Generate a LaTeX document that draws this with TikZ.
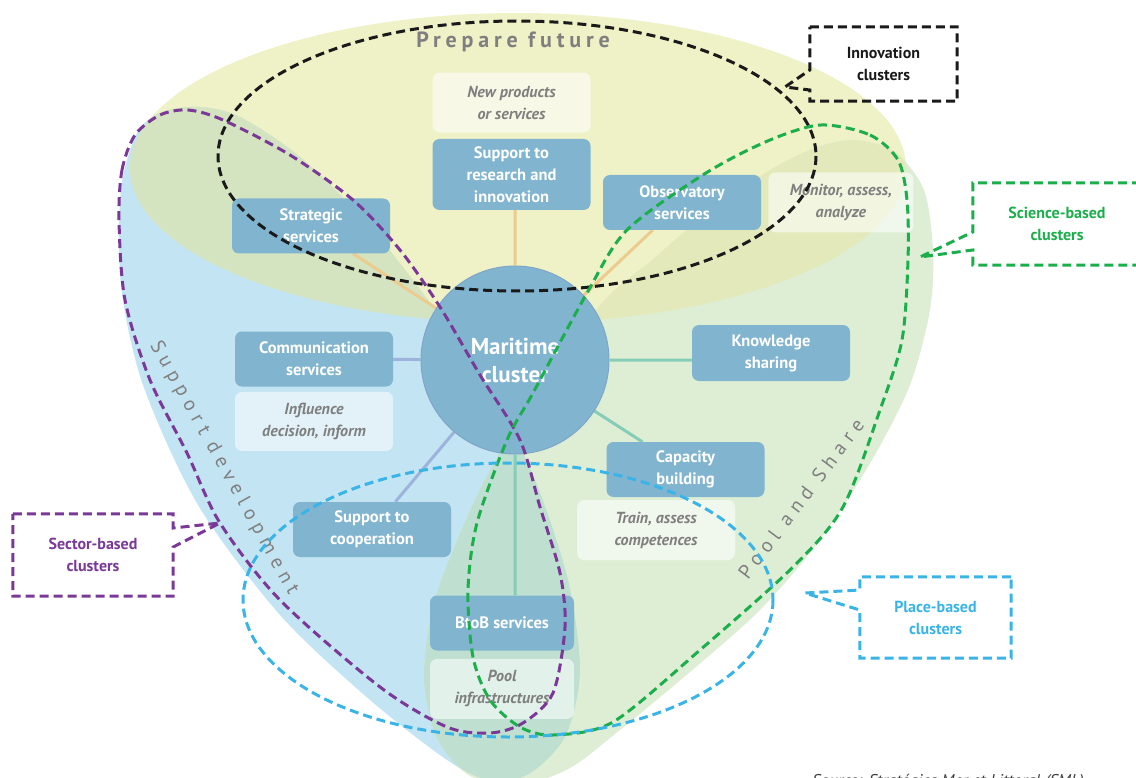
\documentclass[tikz,border=0pt]{standalone}
\usepackage{fontspec}
\setmainfont{PT Sans}
\usetikzlibrary{positioning}

\definecolor{yelfill}{HTML}{EFF1C6}
\definecolor{blufill}{HTML}{C3E4F3}
\definecolor{grnfill}{HTML}{DEEED5}
\definecolor{ybfill}{HTML}{D4E4C1}
\definecolor{ygfill}{HTML}{E3E9BB}
\definecolor{bgfill}{HTML}{BFE0D1}
\definecolor{boxblue}{HTML}{80B4CF}
\definecolor{circedge}{HTML}{7FA6C8}
\definecolor{notegray}{HTML}{7F7F7F}
\definecolor{themegray}{HTML}{7F7F7F}
\definecolor{srcgray}{HTML}{404040}
\definecolor{linkorange}{HTML}{ECCB8F}
\definecolor{linkblue}{HTML}{9DB3DC}
\definecolor{linkteal}{HTML}{86CDB7}
\definecolor{innoblack}{HTML}{1A1A1A}
\definecolor{scigreen}{HTML}{1BAE4B}
\definecolor{sectpurple}{HTML}{7A3996}
\definecolor{placecyan}{HTML}{3AB4E6}

\newcommand\boxfont{\fontsize{16.5}{22}\selectfont\bfseries}
\newcommand\notefont{\fontsize{16}{22}\selectfont\bfseries\itshape}
\newcommand\callfont{\fontsize{16}{22}\selectfont\bfseries}
\newcommand\bigfont{\fontsize{23}{28}\selectfont\bfseries}
\newcommand\prepfont{\fontsize{22}{26}\selectfont\bfseries\addfontfeatures{LetterSpace=22}}
\newcommand\themefont{\fontsize{20}{24}\selectfont\addfontfeatures{LetterSpace=30}}
\newcommand\srcfont{\fontsize{17}{20}\selectfont\itshape}

% the three petals
\newcommand\yelblob{(518,168) ellipse [x radius=388, y radius=155]}
\newcommand\blublob{plot[smooth cycle] coordinates {(137,133) (162,112) (200,107) (240,117) (300,157) (367,223) (433,307) (490,390) (535,480) (568,580) (580,670) (566,735) (532,772) (495,782) (450,762) (370,700) (280,615) (198,505) (143,385) (121,285) (121,190)}}
\newcommand\grnblob{plot[smooth cycle] coordinates {(855,140) (895,152) (924,190) (933,250) (930,310) (910,385) (872,460) (820,540) (760,610) (690,672) (620,730) (570,768) (520,785) (470,776) (437,738) (424,680) (432,610) (455,545) (490,470) (540,390) (603,302) (650,262) (705,215) (767,172) (815,148)}}

\pgfdeclarelayer{back}
\pgfsetlayers{back,main}

\begin{document}
\begin{tikzpicture}[x=1pt, y=-1pt,
    service/.style={fill=boxblue, rounded corners=7pt, text=white, font=\boxfont, align=center, minimum width=158pt, minimum height=55pt},
    note/.style={fill=white, fill opacity=0.55, text opacity=1, rounded corners=7pt, text=notegray, font=\notefont, align=center, minimum width=158pt, minimum height=60pt},
    link/.style={line width=3pt},
    cluster/.style={line width=3pt, dash pattern=on 9pt off 5pt},
    calltext/.style={font=\callfont, align=center},
    theme/.style={text=themegray, font=\themefont}]

    \useasboundingbox (0,0) rectangle (1136,778);

    % background petals
    \begin{pgfonlayer}{back}
        \fill[yelfill] \yelblob;
        \fill[blufill] \blublob;
        \fill[grnfill] \grnblob;
        \begin{scope}
            \clip \yelblob;
            \fill[ybfill] \blublob;
            \fill[ygfill] \grnblob;
        \end{scope}
        \begin{scope}
            \clip \blublob;
            \fill[bgfill] \grnblob;
        \end{scope}
    \end{pgfonlayer}

    \node (mc) [circle, fill=boxblue, draw=circedge, line width=1pt, minimum size=188pt, text=white, font=\bigfont, align=center] at (515,360) {Maritime\\cluster};

    \node (sri)   [service, minimum height=71pt] at (511.5,174.5) {Support to\\research and\\innovation};
    \node (npos)  [note, above=6pt of sri] {New products\\or services};
    \node (strat) [service] at (311,226) {Strategic\\services};
    \node (obs)   [service] at (682,202.5) {Observatory\\services};
    \node (mon)   [note, minimum width=145pt, right=7pt of obs] {Monitor, assess,\\analyze};
    \node (comm)  [service] at (314,359) {Communication\\services};
    \node (infl)  [note, minimum height=59pt, below=5pt of comm] {Influence\\decision, inform};
    \node (know)  [service, minimum height=56pt] at (771,353) {Knowledge\\sharing};
    \node (cap)   [service] at (685.5,469.5) {Capacity\\building};
    \node (train) [note] at (656,530) {Train, assess\\competences};
    \node (coop)  [service] at (372,529.5) {Support to\\cooperation};
    \node (btob)  [service, minimum width=144pt] at (502,623) {BtoB services};
    \node (pool)  [note, minimum width=144pt, below=8pt of btob] {Pool\\infrastructures};

    \begin{pgfonlayer}{back}
        \draw[link, linkorange] (mc) -- (mc |- sri.south)
                                (mc) -- (strat)
                                (mc) -- (obs);
        \draw[link, linkblue]   (mc) -- (comm)
                                (mc) -- (coop);
        \draw[link, linkteal]   (mc) -- (mc -| know.west)
                                (mc) -- (cap)
                                (mc) -- (mc |- btob.north);
    \end{pgfonlayer}

    % themes
    \node (prep)   [text=themegray, font=\prepfont, anchor=base] at (513,48) {Prepare future};
    \node (supdev) [theme, rotate=-61] at (224,468) {Support development};
    \node (poolsh) [theme, rotate=53] at (801,499) {Pool and Share};

    % cluster outlines
    \draw[cluster, innoblack] (517,156) ellipse [x radius=299, y radius=135];
    \draw[cluster, sectpurple] plot[smooth cycle] coordinates {(119,220) (122,170) (135,135) (160,115) (188,110) (223,120) (290,155) (353,200) (400,250) (440,307) (480,375) (520,440) (540,507) (560,573) (565,627) (553,693) (523,723) (490,733) (447,727) (380,687) (280,600) (220,523) (187,453) (150,380) (125,300)};
    \draw[cluster, scigreen] plot[smooth cycle] coordinates {(821,125) (870,135) (898,160) (907,200) (908,260) (902,340) (880,410) (843,507) (793,567) (700,650) (613,722) (553,735) (520,727) (490,700) (473,657) (468,590) (477,523) (507,440) (533,393) (587,293) (627,230) (706,173) (770,140)};
    \draw[cluster, placecyan] (508,600) ellipse [x radius=265, y radius=137];

    % callouts
    \node (innov) [calltext, text=innoblack, minimum width=147pt, minimum height=74pt] at (883.5,64) {Innovation\\clusters};
    \coordinate (innovtip) at (785,87);
    \draw[cluster, innoblack] (innov.north west) -- (innov.north east) -- (innov.south east) -- (innov.south west)
        -- ([yshift=-26pt]innov.west) -- (innovtip) -- ([yshift=-6pt]innov.west) -- cycle;

    \node (sci) [calltext, text=scigreen, minimum width=168pt, minimum height=82pt] at (1057,224) {Science-based\\clusters};
    \coordinate (scitip) at (920,257);
    \draw[cluster, scigreen] (sci.north east) -- (sci.north west) -- ([yshift=-8pt]sci.west) -- (scitip)
        -- ([yshift=-26pt]sci.west) -- (sci.south west) -- (sci.south east) -- cycle;

    \node (sect) [calltext, text=sectpurple, minimum width=160pt, minimum height=82pt] at (93,555) {Sector-based\\clusters};
    \coordinate (secttip) at (220,523);
    \draw[cluster, sectpurple] (sect.north west) -- (sect.north east) -- ([yshift=27pt]sect.east) -- (secttip)
        -- ([yshift=8pt]sect.east) -- (sect.south east) -- (sect.south west) -- cycle;

    \node (place) [calltext, text=placecyan, minimum width=151pt, minimum height=81pt] at (935.5,617.5) {Place-based\\clusters};
    \coordinate (placetip) at (805,593);
    \draw[cluster, placecyan] (place.north east) -- (place.north west) -- ([yshift=27.5pt]place.west) -- (placetip)
        -- ([yshift=7.5pt]place.west) -- (place.south west) -- (place.south east) -- cycle;

    \node (src) [anchor=base west, font=\srcfont, text=srcgray, inner sep=0pt] at (812,786) {Source: Stratégies Mer et Littoral (SML)};
\end{tikzpicture}
\end{document}
